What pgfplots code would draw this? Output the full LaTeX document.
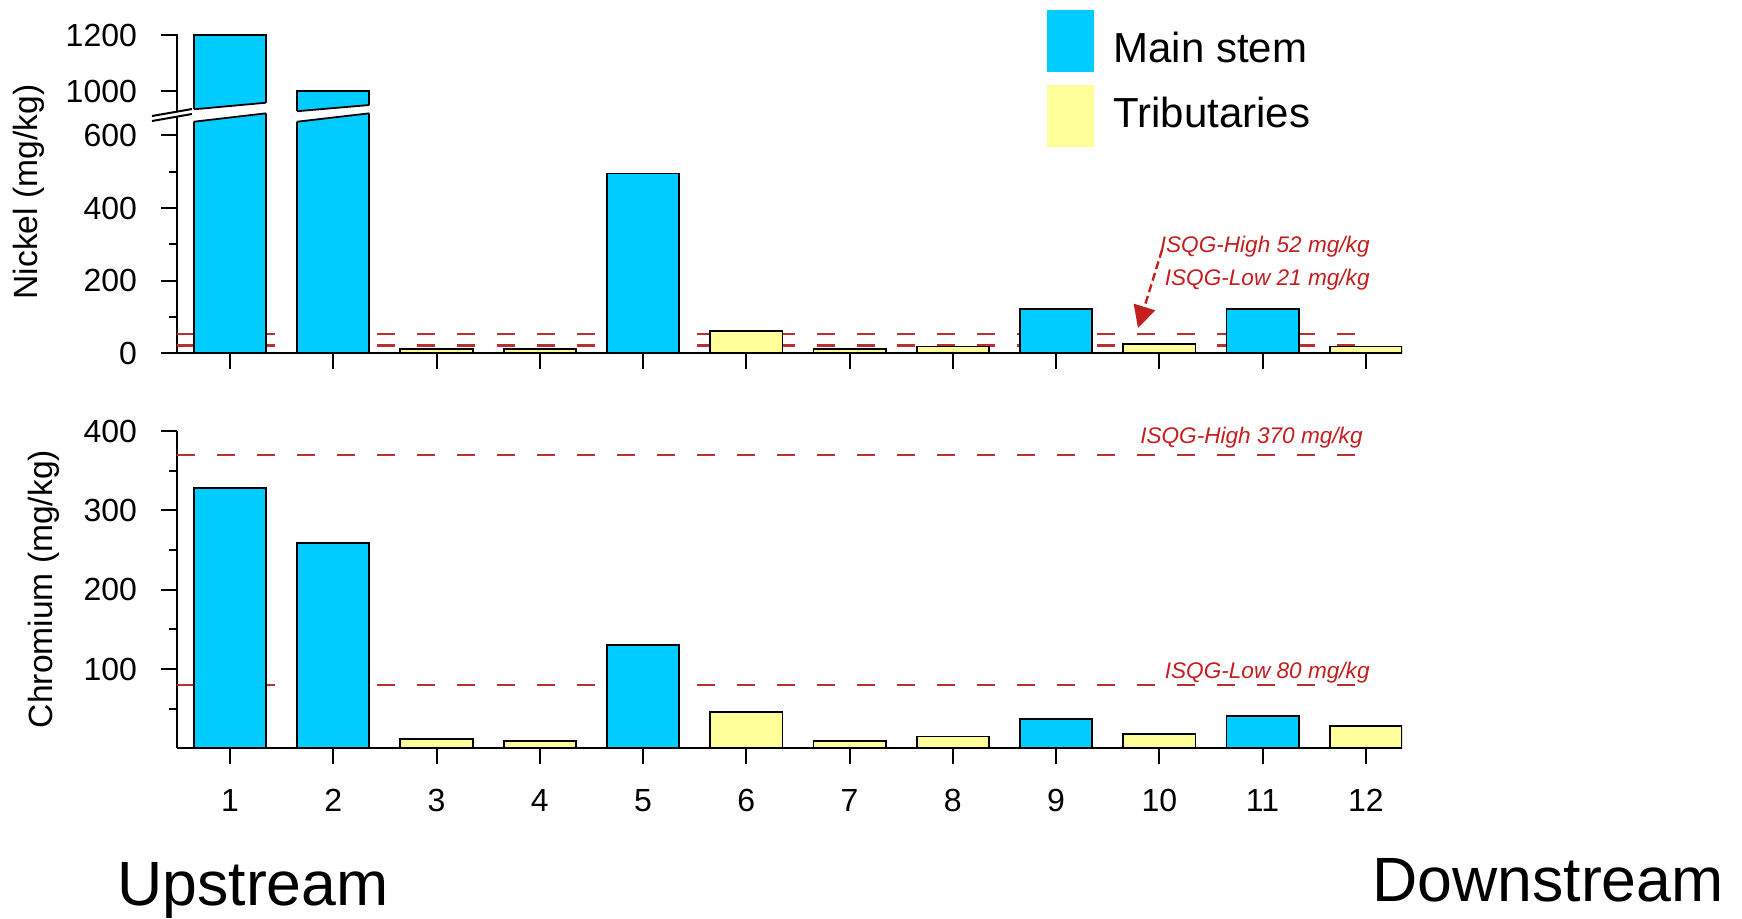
\documentclass[border=0pt]{standalone}
\usepackage{fontspec}
\setmainfont{Liberation Sans}
\usepackage{pgfplots}
\pgfplotsset{compat=1.18}
\usetikzlibrary{arrows.meta}
\definecolor{mainblue}{HTML}{00CCFF}
\definecolor{tribyellow}{HTML}{FFFF99}
\definecolor{refred}{HTML}{B83030}
\definecolor{txtred}{HTML}{C41E1E}

\pgfplotsset{
  panel/.style={
    scale only axis, anchor=south west,
    width=612.5pt,
    xmin=0.487, xmax=12.35,
    axis lines*=left,
    axis line style={line width=1pt},
    tick style={black, line width=1pt},
    tick align=outside,
    major tick length=8pt, minor tick length=4pt,
    xtick={1,...,12},
    tick label style={font=\fontsize{16}{19}\selectfont},
    /pgf/number format/assume math mode=true,
    /pgf/number format/1000 sep={},
    yticklabel style={anchor=east, xshift=-8.5pt},
    xticklabel style={yshift=-9pt},
  },
  refline/.style={refred, line width=1.1pt, dash pattern=on 9pt off 11pt, forget plot},
  mainbar/.style={ybar, bar shift=0pt, bar width=0.7, fill=mainblue, draw=black, line width=0.9pt},
  tribbar/.style={ybar, bar shift=0pt, bar width=0.7, fill=tribyellow, draw=black, line width=0.9pt},
}

\begin{document}
\begin{tikzpicture}
\path[use as bounding box] (0pt,0pt) rectangle (871pt,-459pt);

% ---------- Nickel, lower part ----------
\begin{axis}[panel, at={(88.5pt,-176.5pt)}, height=126.5pt,
  ymin=0, ymax=697.9,
  ytick={0,200,400,600}, minor ytick={100,300,500},
  xticklabels={}]
  \addplot[refline] coordinates {(0.487,52) (11.97,52)};
  \addplot[refline] coordinates {(0.487,21) (11.97,21)};
  \addplot[mainbar] coordinates {(1,1200) (2,1000) (5,495) (9,121) (11,121)};
  \addplot[tribbar] coordinates {(3,11) (4,11) (6,61) (7,11) (8,18) (10,25) (12,18)};
\end{axis}

% ---------- Nickel, upper part (above break) ----------
\begin{axis}[panel, at={(88.5pt,-55.5pt)}, height=38.56pt,
  ymin=928.6, ymax=1204,
  axis x line=none,
  ytick={1000,1200}, minor ytick={}]
  \addplot[mainbar] coordinates {(1,1200) (2,1000)};
\end{axis}

% ---------- Chromium ----------
\begin{axis}[panel, at={(88.5pt,-374.15pt)}, height=158.65pt,
  ymin=0, ymax=400,
  ytick={100,200,300,400}, minor ytick={50,150,250,350}]
  \addplot[refline] coordinates {(0.487,370) (11.97,370)};
  \addplot[refline] coordinates {(0.487,80) (11.97,80)};
  \addplot[mainbar] coordinates {(1,328) (2,259) (5,130) (9,37) (11,41)};
  \addplot[tribbar] coordinates {(3,12) (4,9) (6,46) (7,9) (8,15) (10,18) (12,28)};
\end{axis}

\begin{scope}[x=0.5pt, y=-0.5pt]
  % axis break on y axis
  \fill[white] (165,113.7) -- (190,109.35) -- (190,114.35) -- (165,118.7) -- cycle;
  \draw[line width=1pt] (152,116) -- (192,109);
  \draw[line width=1pt] (152,121) -- (192,114);
  % break on bar 1
  \fill[white] (192.3,109.3) -- (267.7,102.7) -- (267.7,113.3) -- (192.3,121.7) -- cycle;
  \draw[line width=0.9pt] (193.9,109.3) -- (266.1,102.7);
  \draw[line width=0.9pt] (193.9,121.7) -- (266.1,113.3);
  % break on bar 2
  \fill[white] (295.5,111.2) -- (371,105) -- (371,113.3) -- (295.5,121.7) -- cycle;
  \draw[line width=0.9pt] (297.1,111.2) -- (369.4,105);
  \draw[line width=0.9pt] (297.1,121.7) -- (369.4,113.3);

  % axis titles
  \node[rotate=90, anchor=base, font=\fontsize{16.8}{20}\selectfont] at (37,192) {Nickel (mg/kg)};
  \node[rotate=90, anchor=base, font=\fontsize{16.8}{20}\selectfont] at (53,589) {Chromium (mg/kg)};

  % guideline annotations
  \begin{scope}[txtred, font=\fontsize{11.3}{13}\selectfont\itshape]
    \node[anchor=base east, inner sep=0pt] at (1370,252) {ISQG-High 52 mg/kg};
    \node[anchor=base east, inner sep=0pt] at (1370,285) {ISQG-Low 21 mg/kg};
    \node[anchor=base east, inner sep=0pt] at (1363,443) {ISQG-High 370 mg/kg};
    \node[anchor=base east, inner sep=0pt] at (1370,678) {ISQG-Low 80 mg/kg};
  \end{scope}
  \draw[txtred, line width=1.2pt, dash pattern=on 4pt off 2pt,
        -{Triangle[width=11pt,length=11pt]}] (1162,250) -- (1138,328);

  % legend
  \fill[mainblue] (1047,10) rectangle (1094,72);
  \fill[tribyellow] (1047,85) rectangle (1094,147);
  \node[anchor=base west, inner sep=0pt, font=\fontsize{21}{25}\selectfont] at (1113,62) {Main stem};
  \node[anchor=base west, inner sep=0pt, font=\fontsize{21}{25}\selectfont] at (1113,127) {Tributaries};

  % upstream / downstream
  \node[anchor=base west, inner sep=0pt, font=\fontsize{31.3}{36}\selectfont] at (117,905) {Upstream};
  \node[anchor=base west, inner sep=0pt, font=\fontsize{31.3}{36}\selectfont] at (1372,901) {Downstream};
\end{scope}
\end{tikzpicture}
\end{document}
